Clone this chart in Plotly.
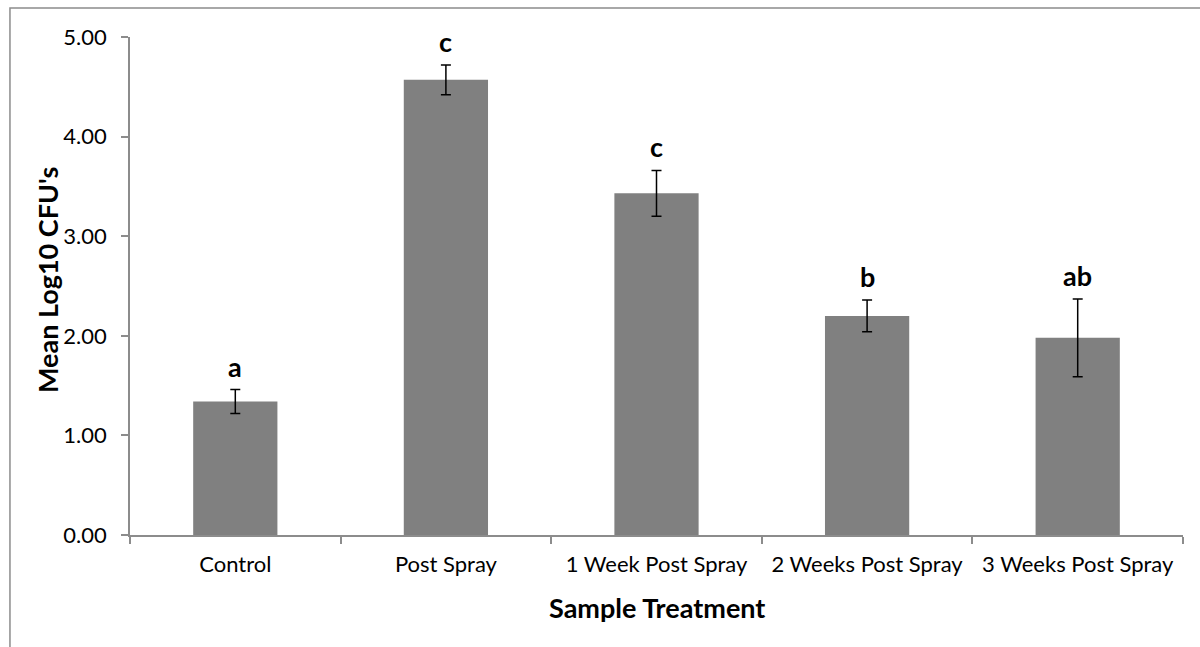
import plotly.graph_objects as go

# Mean log10 CFU counts per sample treatment, with standard error and significance groups
categories = ["Control", "Post Spray", "1 Week Post Spray", "2 Weeks Post Spray", "3 Weeks Post Spray"]
means = [1.34, 4.57, 3.43, 2.20, 1.98]
errors = [0.12, 0.15, 0.23, 0.16, 0.39]
letters = ["a", "c", "c", "b", "ab"]
y_ticks = [0, 1, 2, 3, 4, 5]
y_tick_labels = ["0.00", "1.00", "2.00", "3.00", "4.00", "5.00"]
x_title = "Sample Treatment"
y_title = "Mean Log10 CFU's"

FONT = "Lato, 'Open Sans', sans-serif"
AXIS_GREY = "#8c8c8c"

fig = go.Figure()
fig.add_trace(go.Bar(
    x=categories,
    y=means,
    marker=dict(color="#808080", line=dict(width=0)),
    error_y=dict(type="data", array=errors, visible=True,
                 color="black", thickness=1.5, width=5),
    showlegend=False,
))

# significance letters sit just above each error bar
for cat, m, e, lab in zip(categories, means, errors, letters):
    fig.add_annotation(
        x=cat, y=m + e, text=f"<b>{lab}</b>", showarrow=False,
        yanchor="bottom", yshift=5,
        font=dict(family=FONT, size=27, color="black"),
    )

# axis titles
fig.add_annotation(
    xref="paper", yref="paper", x=0.5, y=-0.145,
    xanchor="center", yanchor="middle", showarrow=False,
    text=f"<b>{x_title}</b>", font=dict(family=FONT, size=27, color="black"),
)
fig.add_annotation(
    xref="paper", yref="paper", x=-0.0788, y=0.512,
    xanchor="center", yanchor="middle", showarrow=False, textangle=-90,
    text=f"<b>{y_title}</b>", font=dict(family=FONT, size=27, color="black"),
)

# outer chart frame
fig.add_shape(type="rect", xref="paper", yref="paper",
              x0=-0.114, x1=1.03, y0=-0.3, y1=1.058,
              line=dict(color="#8c8c8c", width=1.5), fillcolor="rgba(0,0,0,0)",
              layer="below")

fig.update_layout(
    width=1200, height=647,
    margin=dict(l=130, r=17, t=37, b=112),
    paper_bgcolor="white", plot_bgcolor="white",
    bargap=0.6,
    font=dict(family=FONT, size=22, color="black"),
    xaxis=dict(
        type="category",
        showline=True, linecolor=AXIS_GREY, linewidth=1.5,
        ticks="outside", tickson="boundaries", ticklen=7,
        tickcolor=AXIS_GREY, tickwidth=1.5,
        ticklabelstandoff=9,
        showgrid=False, zeroline=False,
        tickfont=dict(family=FONT, size=22, color="black"),
    ),
    yaxis=dict(
        range=[0, 5],
        tickvals=y_ticks, ticktext=y_tick_labels,
        showline=True, linecolor=AXIS_GREY, linewidth=1.5,
        ticks="outside", ticklen=7, tickcolor=AXIS_GREY, tickwidth=1.5,
        ticklabelstandoff=10,
        showgrid=False, zeroline=False,
        tickfont=dict(family=FONT, size=22, color="black"),
    ),
)

fig.write_html("out.html")
